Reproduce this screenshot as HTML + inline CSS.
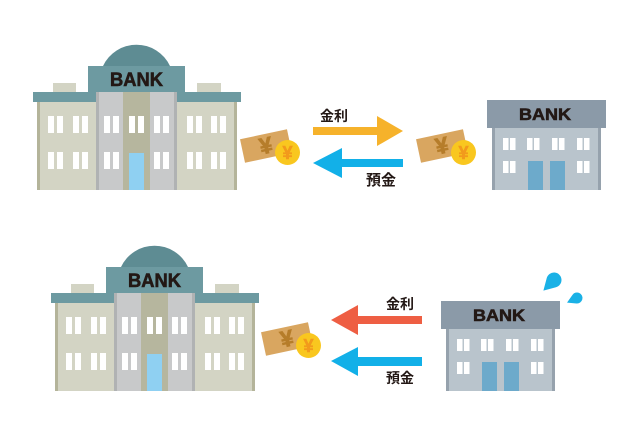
<!DOCTYPE html>
<html><head><meta charset="utf-8"><style>
html,body{margin:0;padding:0;background:#fff;}
svg{display:block;}
.bk{font-family:"Liberation Sans",sans-serif;font-weight:bold;fill:#231815;stroke:#231815;stroke-width:0.6;}
.jp{font-family:"Liberation Sans","Noto Sans CJK JP",sans-serif;font-weight:bold;fill:#231815;}
.yen{font-family:"Liberation Sans",sans-serif;font-weight:bold;}
</style></head><body>
<svg width="640" height="436" viewBox="0 0 640 436" xmlns="http://www.w3.org/2000/svg">
<defs>
<g id="big">
  <path d="M103,66 A37,37 0 0 1 170,66 Z" fill="#5e8c93"/>
  <rect x="88" y="66" width="97" height="27" fill="#6d9aa1"/>
  <rect x="53" y="83" width="23" height="10" fill="#d3d4c4"/>
  <rect x="197" y="83" width="24" height="10" fill="#d3d4c4"/>
  <rect x="33" y="92" width="208" height="10" fill="#6d9aa1"/>
  <rect x="37" y="102" width="200" height="88" fill="#d3d4c4"/>
  <rect x="37" y="102" width="3" height="88" fill="#b4b49a"/>
  <rect x="234" y="102" width="3" height="88" fill="#b4b49a"/>
  <rect x="96" y="92" width="81" height="98" fill="#c8c9ca"/>
  <rect x="96" y="92" width="3" height="98" fill="#b0b2b3"/>
  <rect x="174" y="92" width="3" height="98" fill="#b0b2b3"/>
  <rect x="123" y="92" width="27" height="98" fill="#b6b69e"/>
  <rect x="129" y="153" width="15" height="37" fill="#8fd0f2"/>
  <g fill="#fff">
    <rect x="48" y="116" width="6" height="17"/><rect x="57" y="116" width="6" height="17"/>
    <rect x="73" y="116" width="6" height="17"/><rect x="82" y="116" width="6" height="17"/>
    <rect x="104" y="116" width="6" height="17"/><rect x="113" y="116" width="6" height="17"/>
    <rect x="129" y="116" width="6" height="17"/><rect x="138" y="116" width="6" height="17"/>
    <rect x="154" y="116" width="6" height="17"/><rect x="163" y="116" width="6" height="17"/>
    <rect x="187" y="116" width="6" height="17"/><rect x="196" y="116" width="6" height="17"/>
    <rect x="211" y="116" width="6" height="17"/><rect x="220" y="116" width="6" height="17"/>
    <rect x="48" y="152" width="6" height="17"/><rect x="57" y="152" width="6" height="17"/>
    <rect x="73" y="152" width="6" height="17"/><rect x="82" y="152" width="6" height="17"/>
    <rect x="104" y="152" width="6" height="17"/><rect x="113" y="152" width="6" height="17"/>
    <rect x="154" y="152" width="6" height="17"/><rect x="163" y="152" width="6" height="17"/>
    <rect x="187" y="152" width="6" height="17"/><rect x="196" y="152" width="6" height="17"/>
    <rect x="211" y="152" width="6" height="17"/><rect x="220" y="152" width="6" height="17"/>
  </g>
  <text class="bk" x="110" y="86" font-size="19" textLength="53" lengthAdjust="spacingAndGlyphs">BANK</text>
</g>
<g id="small">
  <rect x="487" y="100" width="119" height="28" fill="#8b9aa8"/>
  <rect x="492" y="128" width="109" height="62" fill="#b9c4cc"/>
  <rect x="492" y="128" width="3" height="62" fill="#96a2ad"/>
  <rect x="598" y="128" width="3" height="62" fill="#96a2ad"/>
  <g fill="#fff">
    <rect x="503" y="138" width="5.5" height="12"/><rect x="510" y="138" width="5.5" height="12"/>
    <rect x="527" y="138" width="5.5" height="12"/><rect x="534" y="138" width="5.5" height="12"/>
    <rect x="552" y="138" width="5.5" height="12"/><rect x="559" y="138" width="5.5" height="12"/>
    <rect x="577" y="138" width="5.5" height="12"/><rect x="584" y="138" width="5.5" height="12"/>
    <rect x="503" y="161" width="5.5" height="12"/><rect x="510" y="161" width="5.5" height="12"/>
    <rect x="577" y="161" width="5.5" height="12"/><rect x="584" y="161" width="5.5" height="12"/>
  </g>
  <rect x="528" y="161" width="15" height="29" fill="#6daacb"/>
  <rect x="550" y="161" width="15" height="29" fill="#6daacb"/>
  <text class="bk" x="519" y="120" font-size="17" textLength="52" lengthAdjust="spacingAndGlyphs">BANK</text>
</g>
<g id="money">
  <g transform="rotate(-12)">
    <rect x="-24" y="-12" width="48" height="24" fill="#d9a660"/>
    <text class="yen" x="0" y="7.5" font-size="23" text-anchor="middle" fill="#b67d2a" stroke="#b67d2a" stroke-width="0.8">¥</text>
  </g>
  <circle cx="21.5" cy="6.5" r="12.5" fill="#f9c71f"/>
  <text class="yen" x="21.5" y="13" font-size="18" text-anchor="middle" fill="#f29a1c" stroke="#f29a1c" stroke-width="0.6">¥</text>
</g>
<path id="drop" d="M0,-2 L0.866,-0.5 A1,1 0 1 1 -0.866,-0.5 Z"/>
</defs>

<!-- top row -->
<use href="#big"/>
<use href="#small"/>
<use href="#money" transform="translate(266,146)"/>
<use href="#money" transform="translate(442,146)"/>
<polygon points="313,127 377,127 377,116 403,131 377,146 377,135 313,135" fill="#f6b22b"/>
<polygon points="313,163 342,148 342,159 403,159 403,167 342,167 342,178" fill="#12b0e8"/>
<text class="jp" x="320" y="121" font-size="14">金利</text>
<text class="jp" x="366" y="185" font-size="15">預金</text>

<!-- bottom row -->
<use href="#big" transform="translate(18,201)"/>
<use href="#small" transform="translate(-46,201)"/>
<use href="#money" transform="translate(287,339)"/>
<polygon points="331,320 358,305 358,316 422,316 422,324 358,324 358,335" fill="#ee5e43"/>
<polygon points="331,361 358,347 358,357 422,357 422,366 358,366 358,376" fill="#12b0e8"/>
<text class="jp" x="386" y="309" font-size="14">金利</text>
<text class="jp" x="386" y="383" font-size="14">預金</text>
<use href="#drop" fill="#1ab1e6" transform="translate(554,280) rotate(-135) scale(7.5)"/>
<use href="#drop" fill="#1ab1e6" transform="translate(577,298) rotate(-115) scale(5.5)"/>
</svg>
</body></html>
